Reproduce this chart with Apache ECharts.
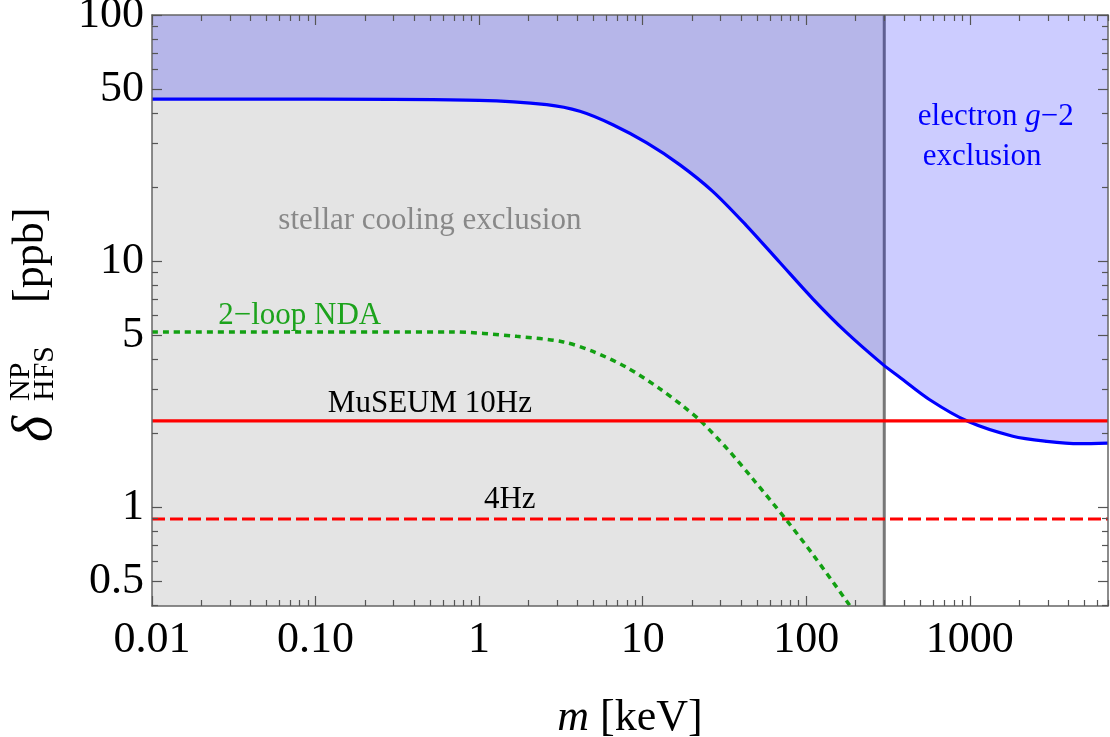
<!DOCTYPE html>
<html><head><meta charset="utf-8">
<script src="https://cdn.jsdelivr.net/npm/echarts@6/dist/echarts.min.js"></script>
<style>html,body{margin:0;padding:0;background:#fff}#c{width:1110px;height:737px}</style>
</head><body><div id="c"></div>
<script>
// ---------- data ----------
const xMin = 0.01, xMax = 7000;
const yMin = 0.396, yMax = 100;
const xTickValues = [0.01, 0.1, 1, 10, 100, 1000];
const xTickLabels = ['0.01', '0.10', '1', '10', '100', '1000'];
const yTickValues = [0.5, 1, 5, 10, 50, 100];
const yTickLabels = ['0.5', '1', '5', '10', '50', '100'];

// electron g-2 exclusion boundary (m [keV], delta [ppb])
const electronMass = [0.01, 0.1, 1.0, 2.59, 4.13, 6.57, 10.6, 16.9, 26.8, 42.8, 69.0, 109.7, 174.6, 293.8, 373, 569, 972, 1832, 2956, 4700, 7000];
const electronG2   = [45.5, 45.5, 45.0, 43.2, 40.6, 35.8, 30.2, 24.6, 19.2, 14.0, 9.86, 7.02, 5.15, 3.80, 3.37, 2.73, 2.23, 1.94, 1.85, 1.81, 1.82];

// 2-loop NDA estimate
const ndaMass   = [0.01, 0.3, 0.664, 1.70, 3.27, 4.96, 8.01, 12.7, 17.8, 22.6, 33.0, 47.2, 76.1, 109.7, 177, 245];
const ndaValues = [5.15, 5.15, 5.15, 4.94, 4.69, 4.29, 3.69, 3.03, 2.56, 2.24, 1.72, 1.30, 0.881, 0.642, 0.414, 0.305];

const museum10Hz = 2.24;
const museum4Hz = 0.894;
const stellarCut = 300;   // keV, end of stellar cooling exclusion

// ---------- helpers ----------
const SERIF = '"Liberation Serif", "Times New Roman", serif';
const zip = (a, b) => a.map((v, i) => [v, b[i]]);
function allTicks(lo, hi) {
  const out = [];
  for (let e = -3; e <= 4; e++) for (let k = 1; k <= 9; k++) {
    const v = +(k * Math.pow(10, e)).toPrecision(6);
    if (v >= lo * 0.9999 && v <= hi * 1.0001) out.push(v);
  }
  return out;
}
const isIn = (v, arr) => arr.some(a => Math.abs(Math.log10(v) - Math.log10(a)) < 1e-6);
const xMinor = allTicks(xMin, xMax).filter(v => !isIn(v, xTickValues));
const yMinor = allTicks(yMin, yMax).filter(v => !isIn(v, yTickValues));
function labelOf(vals, labs) {
  return v => { for (let i = 0; i < vals.length; i++) if (Math.abs(Math.log10(v) - Math.log10(vals[i])) < 1e-6) return labs[i]; return ''; };
}
const LINE = { color: '#666', width: 1.5 };

function mkX(position, major, showLine) {
  return {
    type: 'log', logBase: 10, min: xMin, max: xMax, position: position, z: 10,
    axisLine: { show: showLine, onZero: false, lineStyle: LINE },
    axisTick: { show: true, inside: true, length: major ? 10 : 6, customValues: major ? xTickValues : xMinor, lineStyle: { color: '#555', width: 1.2 } },
    axisLabel: (position === 'bottom' && major) ? {
      show: true, customValues: xTickValues, formatter: labelOf(xTickValues, xTickLabels),
      fontFamily: SERIF, fontSize: 44, color: '#000', margin: 12
    } : { show: false },
    splitLine: { show: false }, minorTick: { show: false }
  };
}
function mkY(position, major, showLine) {
  return {
    type: 'log', logBase: 10, min: yMin, max: yMax, position: position, z: 10,
    axisLine: { show: showLine, onZero: false, lineStyle: LINE },
    axisTick: { show: true, inside: true, length: major ? 10 : 6, customValues: major ? yTickValues : yMinor, lineStyle: { color: '#555', width: 1.2 } },
    axisLabel: (position === 'left' && major) ? {
      show: true, customValues: yTickValues, formatter: labelOf(yTickValues, yTickLabels),
      fontFamily: SERIF, fontSize: 44, color: '#000', margin: 8
    } : { show: false },
    splitLine: { show: false }, minorTick: { show: false }
  };
}

const xAxes = [mkX('bottom', true, true), mkX('bottom', false, false), mkX('top', true, true), mkX('top', false, false)];
xAxes[0].name = '{i|m} [keV]';
xAxes[0].nameLocation = 'middle';
xAxes[0].nameGap = 90;
xAxes[0].nameTextStyle = { fontFamily: SERIF, fontSize: 44, color: '#000', rich: { i: { fontFamily: SERIF, fontSize: 44, fontStyle: 'italic', color: '#000' } } };

const option = {
  animation: false,
  backgroundColor: '#ffffff',
  grid: { left: 152, right: 2, top: 15, bottom: 131, containLabel: false, outerBoundsMode: 'none' },
  xAxis: xAxes,
  yAxis: [mkY('left', true, true), mkY('left', false, false), mkY('right', true, true), mkY('right', false, false)],
  series: [
    { // stellar cooling exclusion region
      name: 'stellar', type: 'line', z: 1, silent: true, symbol: 'none',
      data: [[xMin, yMax], [stellarCut, yMax]],
      lineStyle: { width: 0 },
      areaStyle: { color: '#E4E4E4', opacity: 1, origin: 'start' }
    },
    { // boundary of the stellar region
      name: 'stellarEdge', type: 'line', z: 2, silent: true, symbol: 'none',
      data: [[stellarCut, yMin], [stellarCut, yMax]],
      lineStyle: { color: '#777777', width: 3 }
    },
    { // electron g-2 exclusion
      name: 'electron g-2', type: 'line', z: 3, silent: true, symbol: 'none',
      smooth: 0.3,
      data: zip(electronMass, electronG2),
      lineStyle: { color: '#0000FF', width: 3.2 },
      areaStyle: { color: 'rgba(0,0,255,0.2)', opacity: 1, origin: 'end' }
    },
    { // 2-loop NDA
      name: 'NDA', type: 'line', z: 4, silent: true, symbol: 'none',
      smooth: 0.3,
      data: zip(ndaMass, ndaValues),
      lineStyle: { color: '#12A012', width: 3.5, type: [6, 5] }
    },
    { // MuSEUM 10Hz
      name: 'MuSEUM 10Hz', type: 'line', z: 5, silent: true, symbol: 'none',
      data: [[xMin, museum10Hz], [xMax, museum10Hz]],
      lineStyle: { color: '#FF0000', width: 3.2 }
    },
    { // 4Hz
      name: '4Hz', type: 'line', z: 5, silent: true, symbol: 'none',
      data: [[xMin, museum4Hz], [xMax, museum4Hz]],
      lineStyle: { color: '#FF0000', width: 3.2, type: [13, 5] }
    }
  ]
};

const chart = echarts.init(document.getElementById('c'), null, { renderer: 'canvas' });
chart.setOption(option);

// ---------- text annotations (anchored in data coordinates) ----------
const notes = [
  { at: [0.5, 14.6], text: 'stellar cooling exclusion', color: '#888888', align: 'center' },
  { at: [0.080, 5.98], text: '2\u2212loop NDA', color: '#1CA31C', align: 'center' },
  { at: [0.5, 2.63], text: 'MuSEUM 10Hz', color: '#000000', align: 'center' },
  { at: [1.54, 1.07], text: '4Hz', color: '#000000', align: 'center' },
  { at: [481, 38.6], text: 'electron {i|g}\u22122', color: '#0000FF', align: 'left' },
  { at: [516, 26.4], text: 'exclusion', color: '#0000FF', align: 'left' }
];
const gfx = notes.map(n => {
  const p = chart.convertToPixel({ xAxisIndex: 0, yAxisIndex: 0 }, n.at);
  return {
    type: 'text', x: p[0], y: p[1], z: 50, silent: true,
    style: {
      text: n.text, fill: n.color, font: '31px ' + SERIF,
      fontFamily: SERIF, fontSize: 31,
      align: n.align, textAlign: n.align, verticalAlign: 'middle', textVerticalAlign: 'middle',
      rich: { i: { fontStyle: 'italic', fontFamily: SERIF, fontSize: 31, fill: n.color } }
    }
  };
});
// rotated y-axis title: delta^NP_HFS [ppb]
gfx.push({
  type: 'group', x: 0, y: 420, rotation: Math.PI / 2, silent: true,
  children: [
    { type: 'text', x: -22, y: 36, style: { text: '\u03B4', font: 'italic 56px ' + SERIF, fill: '#000', align: 'left', verticalAlign: 'middle' } },
    { type: 'text', x: 19, y: 21, style: { text: 'NP', font: '30px ' + SERIF, fill: '#000', align: 'left', verticalAlign: 'middle' } },
    { type: 'text', x: 19, y: 45, style: { text: 'HFS', font: '30px ' + SERIF, fill: '#000', align: 'left', verticalAlign: 'middle' } },
    { type: 'text', x: 117, y: 31, style: { text: '[ppb]', font: '44px ' + SERIF, fill: '#000', align: 'left', verticalAlign: 'middle' } }
  ]
});
chart.setOption({ graphic: gfx });
</script>
</body></html>
